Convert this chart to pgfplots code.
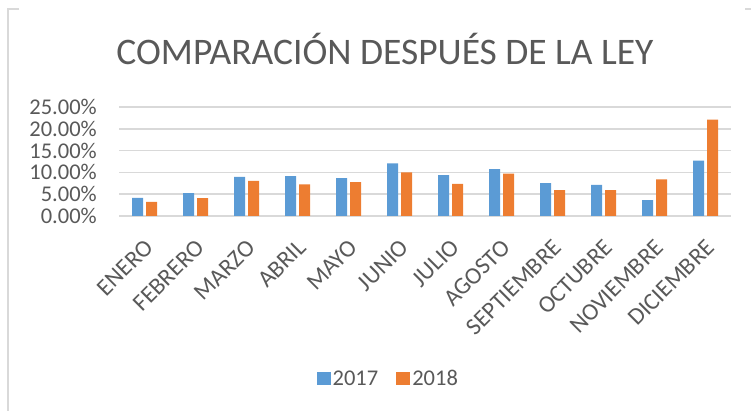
\documentclass[border=0pt]{standalone}
\usepackage{fontspec}
\setmainfont{Carlito}
\usepackage{pgfplots}
\pgfplotsset{compat=1.18}
\definecolor{txt}{HTML}{595959}
\definecolor{gridc}{HTML}{D9D9D9}
\definecolor{b17}{HTML}{5B9BD5}
\definecolor{o18}{HTML}{ED7D31}
\begin{document}
\begin{tikzpicture}[x=1pt,y=1pt]
\path[use as bounding box] (0,0) rectangle (751,411);
\draw[gridc, line width=1.5pt] (19,402) -- (8,402) -- (8,0);
\draw[gridc, line width=1.5pt] (745,402) -- (751,402);
\node[text=txt, font=\fontsize{37.5}{44}\selectfont, anchor=base, inner sep=0pt] at (385,346) {COMPARACIÓN DESPUÉS DE LA LEY};
\begin{axis}[at={(119pt,195pt)}, anchor=south west, scale only axis,
  width=612pt, height=109pt,
  xmin=-0.5, xmax=11.5, ymin=0, ymax=25, ytick={0,5,...,25},
  xtick={0,...,11},
  xticklabels={ENERO,FEBRERO,MARZO,ABRIL,MAYO,JUNIO,JULIO,AGOSTO,SEPTIEMBRE,OCTUBRE,NOVIEMBRE,DICIEMBRE},
  axis line style={draw=none}, major tick length=0pt,
  ymajorgrids, grid style={gridc, line width=1.5pt},
  ybar=3pt, bar width=11pt,
  /pgf/number format/assume math mode=true,
  yticklabel={\pgfmathprintnumber[fixed,fixed zerofill,precision=2]{\tick}\%},
  y tick label style={font=\fontsize{22.5}{24}\selectfont, text=txt, anchor=east, inner sep=0pt, xshift=-22pt},
  x tick label style={font=\fontsize{24}{26}\selectfont, text=txt, inner sep=0pt, xshift=-1pt, yshift=-22pt, rotate=45, anchor=north east},
  legend style={at={(0.44,-1.495)}, anchor=center, draw=none, fill=none, legend columns=2,
    font=\fontsize{22.5}{24}\selectfont, text=txt, inner sep=0pt,
    /tikz/every even column/.append style={column sep=16pt}},
  legend cell align=left,
  legend image code/.code={\fill[#1] (0pt,-6.5pt) rectangle (14pt,6.5pt);},
  clip=false,
]
\addplot[fill=b17, draw=none] coordinates {(0,4.15) (1,5.23) (2,9.0) (3,9.15) (4,8.69) (5,12.08) (6,9.38) (7,10.77) (8,7.54) (9,7.15) (10,3.62) (11,12.69)};
\addplot[fill=o18, draw=none] coordinates {(0,3.23) (1,4.08) (2,8.08) (3,7.23) (4,7.77) (5,10.0) (6,7.38) (7,9.69) (8,5.92) (9,5.92) (10,8.38) (11,22.08)};
\legend{2017,2018}
\end{axis}
\end{tikzpicture}
\end{document}
